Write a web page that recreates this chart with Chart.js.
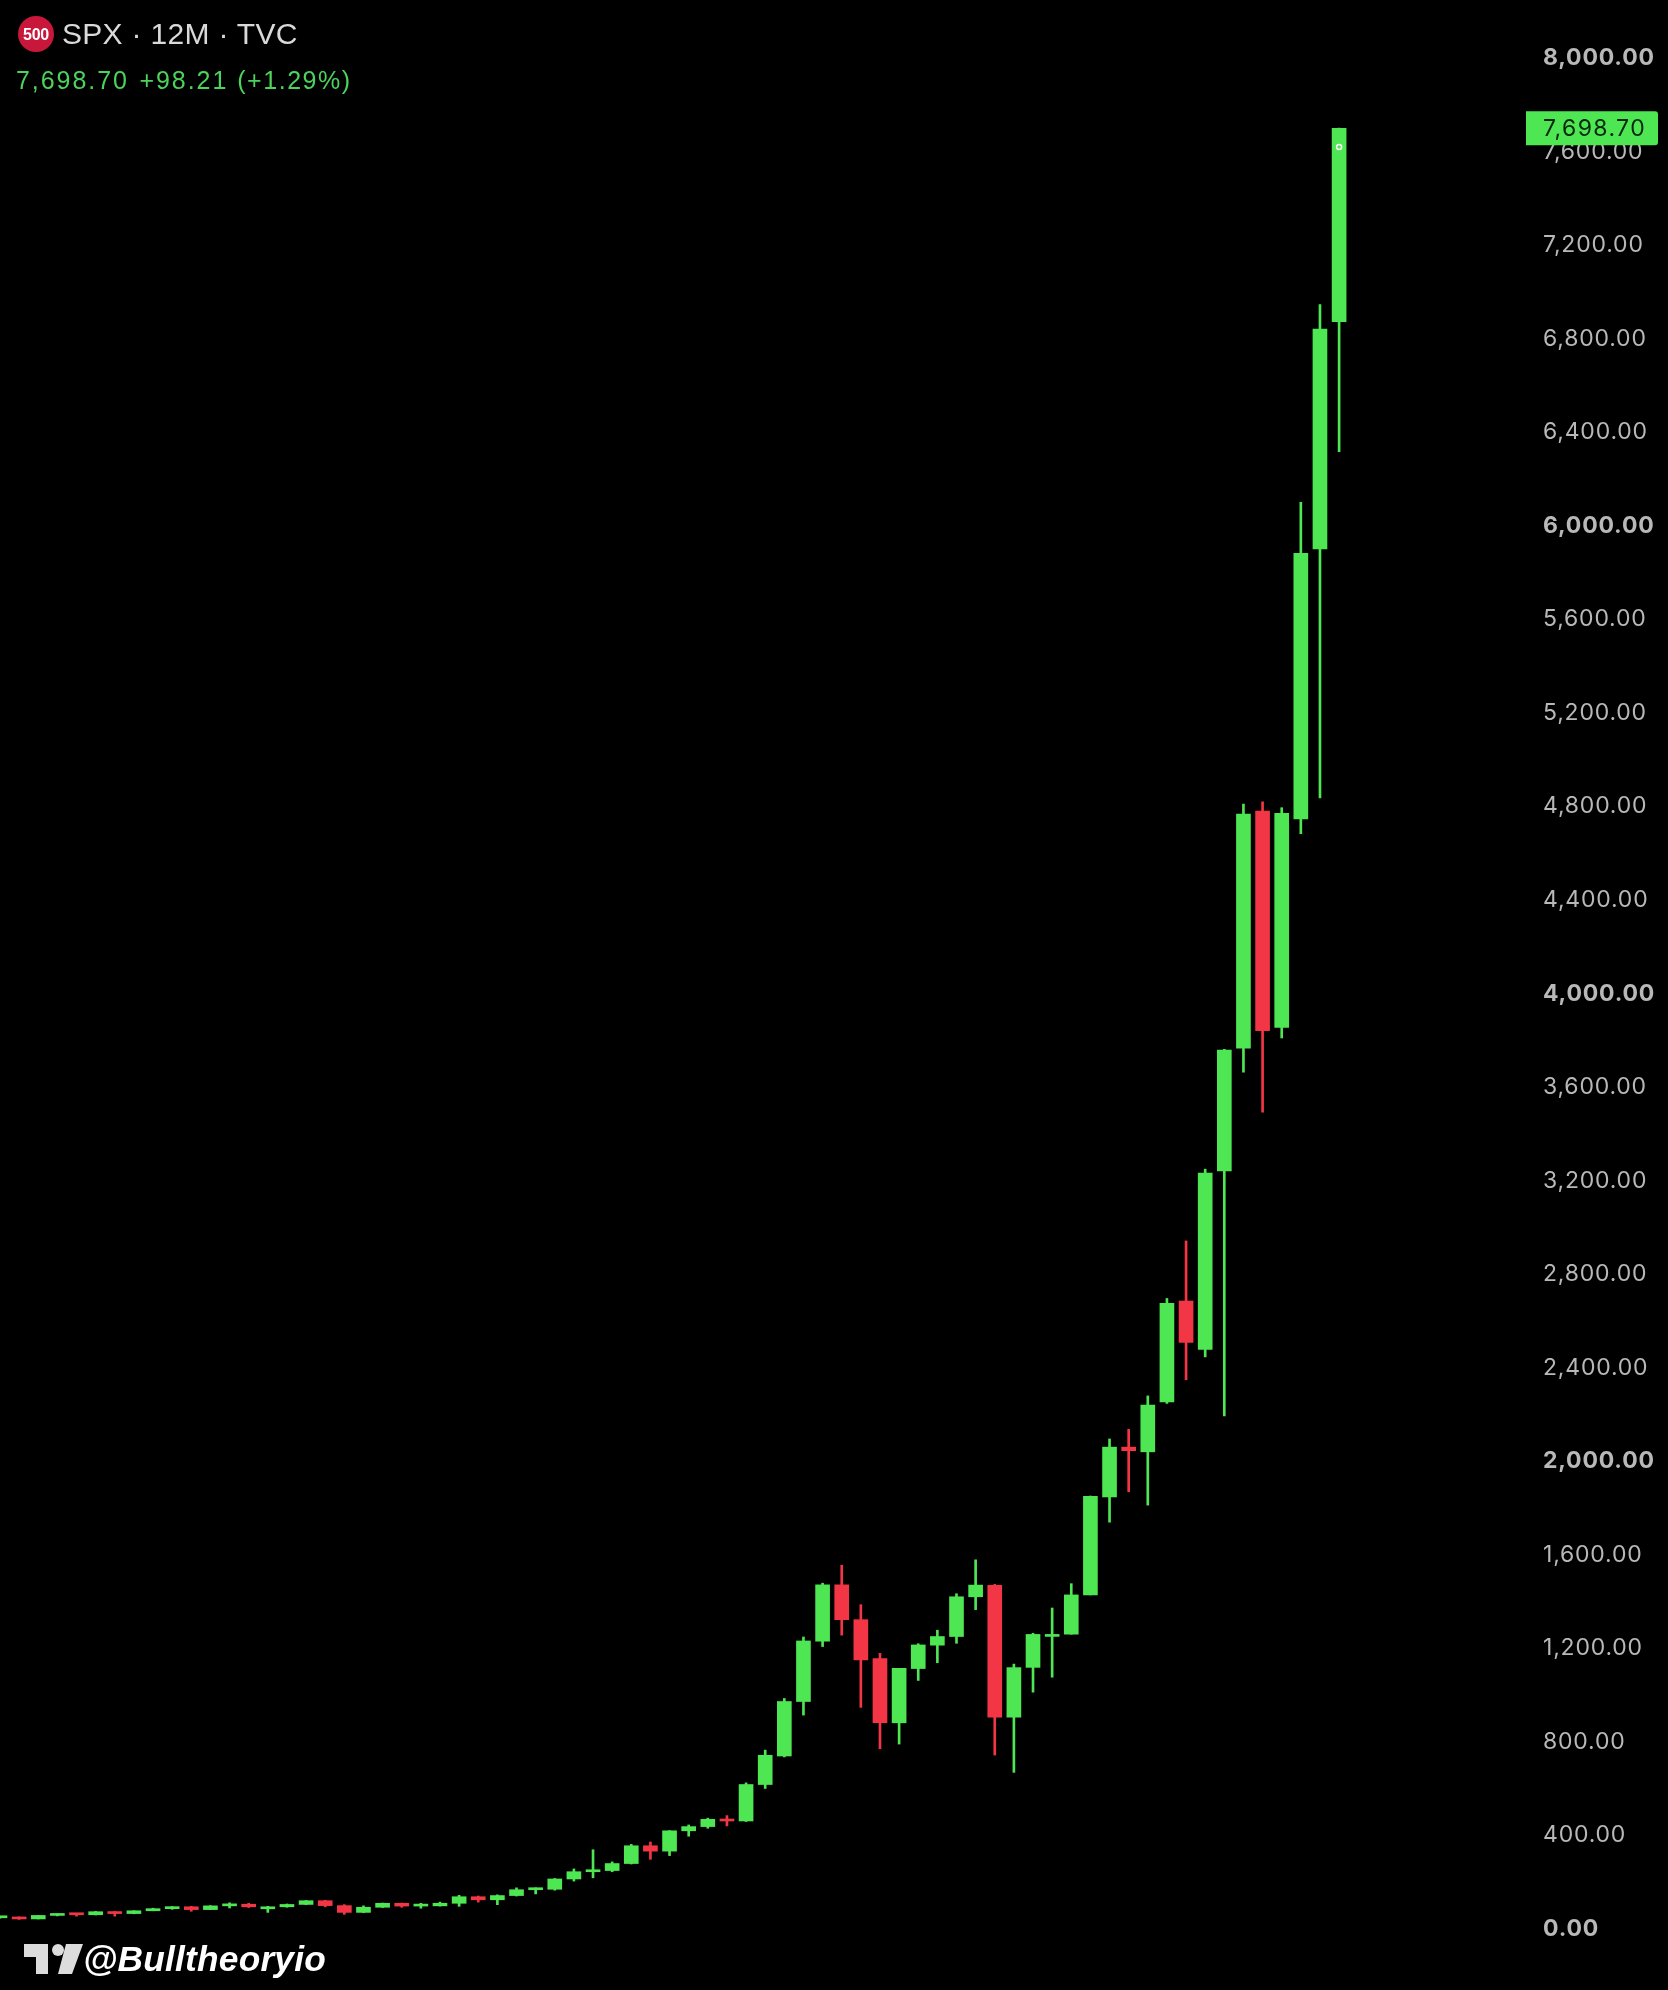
<!DOCTYPE html>
<html>
<head>
<meta charset="utf-8">
<style>
html,body{margin:0;padding:0;background:#000;width:1668px;height:1990px;overflow:hidden}
#wrap{position:relative;width:1668px;height:1990px}
canvas{position:absolute;left:0;top:0}
.t{position:absolute;white-space:pre;font-family:"Liberation Sans",sans-serif}
#badge{position:absolute;left:18px;top:16px;width:36px;height:36px;border-radius:50%;background:#c8173a;color:#fff;font:bold 16px "Liberation Sans",sans-serif;line-height:37px;text-align:center;letter-spacing:-.3px}
#title{left:62px;top:16px;font-size:30px;line-height:36px;color:#d9d9d9;letter-spacing:.3px}
#quote{left:16px;top:64px;font-size:25px;line-height:32px;color:#4cd35c;letter-spacing:1.95px}
#logo{position:absolute;left:20px;top:1940px}
#mark{left:83px;top:1937px;font-size:35.3px;line-height:44px;font-weight:bold;font-style:italic;color:#fff;letter-spacing:.2px}
</style>
</head>
<body>
<div id="wrap">
<canvas id="c" width="1668" height="1990"></canvas>
<div id="badge">500</div>
<div class="t" id="title">SPX · 12M · TVC</div>
<div class="t" id="quote">7,698.70 <span style="margin-left:1.6px">+98.21</span> <span style="letter-spacing:1.55px">(+1.29%)</span></div>
<svg id="logo" width="68" height="38" viewBox="0 0 68 38"><path d="M4 4H28V34H16V17H4Z M46 4H63L52 34H38Z" fill="#dcdcdc"/><circle cx="38" cy="10" r="6" fill="#dcdcdc"/></svg>
<div class="t" id="mark">@Bulltheoryio</div>
</div>
<script src="https://cdn.jsdelivr.net/npm/chart.js@4/dist/chart.umd.min.js"></script>
<script>
const years = [1956,1957,1958,1959,1960,1961,1962,1963,1964,1965,1966,1967,1968,1969,1970,1971,1972,1973,1974,1975,1976,1977,1978,1979,1980,1981,1982,1983,1984,1985,1986,1987,1988,1989,1990,1991,1992,1993,1994,1995,1996,1997,1998,1999,2000,2001,2002,2003,2004,2005,2006,2007,2008,2009,2010,2011,2012,2013,2014,2015,2016,2017,2018,2019,2020,2021,2022,2023,2024,2025,2026];
const opens = [45,46,40,55,59,58,71,63,75,84,92,80,96,103,92,92,102,118,97,68,90,107,95,96,107,135,122,140,165,167,211,242,247,277,353,330,417,435,466,459,615,737,970,1228,1469,1320,1154,879,1111,1211,1248,1418,1467,903,1116,1257,1258,1426,1845,2058,2038,2251,2683,2476,3239,3764,4778,3853,4745,5900,6872];
const highs = [49,49,55,61,61,72,72,75,86,93,94,97,109,107,94,104,119,120,101,96,108,108,107,112,141,138,143,173,173,213,254,336,284,359,369,418,442,471,482,622,762,983,1246,1476,1553,1384,1176,1112,1217,1275,1431,1576,1471,1130,1262,1370,1474,1849,2093,2134,2277,2694,2940,3247,3760,4808,4818,4793,6099,6945,7700];
const lows = [43,38,40,53,52,57,52,62,75,81,73,80,87,89,68,90,101,92,60,67,89,90,86,95,94,112,101,138,147,163,202,216,242,275,295,311,394,428,438,457,598,733,912,1205,1254,945,768,788,1060,1136,1219,1363,741,667,1010,1074,1258,1426,1737,1867,1810,2245,2346,2444,2192,3662,3491,3808,4682,4835,6316];
const closes = [46,40,55,59,58,71,63,75,84,92,80,96,103,92,92,102,118,97,68,90,107,95,96,107,135,122,140,165,167,211,242,247,277,353,330,417,435,466,459,615,740,970,1229,1469,1320,1148,880,1112,1212,1248,1418,1468,903,1115,1257,1257,1426,1848,2058,2043,2238,2673,2506,3230,3756,4766,3839,4769,5881,6840,7698.70];
const yTicks = [0,400,800,1200,1600,2000,2400,2800,3200,3600,4000,4400,4800,5200,5600,6000,6400,6800,7200,7600,8000];
const boldTicks = [0,2000,4000,6000,8000];
const lastPrice = 7698.70;
const markerYear = 2026;
const markerValue = 7619;

const UP = '#4ee653', DOWN = '#f23645';
const colors = opens.map((o,i)=> closes[i] >= o ? UP : DOWN);
const PX_PER_UNIT = 0.2338, ZERO_Y = 1928.3, H = 1990, SPACING = 19.13, AREA_R = 1520;
const TICK_FONT = '"Inter","Liberation Sans",sans-serif';
const TRACK = '0.8px';

const tracking = {
  id:'tracking',
  beforeDraw(chart){ chart.ctx.letterSpacing = TRACK; }
};
const priceTag = {
  id:'priceTag',
  afterDatasetsDraw(chart){
    const y = chart.scales.y.getPixelForValue(lastPrice), c = chart.ctx;
    c.save();
    c.fillStyle = UP;
    c.beginPath();
    c.roundRect(1526, y-17, 132, 34, [0,3,3,0]);
    c.fill();
    c.fillStyle = '#06280a';
    c.font = '23px '+TICK_FONT;
    c.letterSpacing = '1.4px';
    c.textAlign = 'left'; c.textBaseline = 'middle';
    c.fillText('7,698.70', 1543, y+1);
    c.restore();
  }
};

new Chart(document.getElementById('c'), {
  type:'bar',
  data:{
    datasets:[
      {label:'wick', grouped:false, order:3, barThickness:2, backgroundColor:colors,
       data:years.map((x,i)=>({x, y:[lows[i],highs[i]]}))},
      {label:'body', grouped:false, order:2, barThickness:14, minBarLength:2, backgroundColor:colors,
       data:years.map((x,i)=>({x, y:[opens[i],closes[i]]}))},
      {label:'marker', type:'line', order:1, showLine:false, pointRadius:2.5, pointBorderWidth:1.5,
       pointBorderColor:'#ffffff', pointBackgroundColor:UP,
       data:[{x:markerYear,y:markerValue}]}
    ]
  },
  plugins:[tracking, priceTag],
  options:{
    responsive:false, animation:false, devicePixelRatio:1,
    layout:{padding:0, autoPadding:false},
    plugins:{legend:{display:false},tooltip:{enabled:false}},
    scales:{
      x:{type:'linear', display:false, min:years[0], max:years[0]+AREA_R/SPACING, offset:false, grid:{display:false}},
      y:{
        position:'right',
        min:(ZERO_Y-H)/PX_PER_UNIT, max:ZERO_Y/PX_PER_UNIT,
        grid:{display:false}, border:{display:false},
        afterFit(s){ s.width = 1668-AREA_R; s.paddingTop = 0; s.paddingBottom = 0; },
        afterBuildTicks(s){ s.ticks = yTicks.map(v=>({value:v})); },
        ticks:{
          padding:15, labelOffset:0.5, autoSkip:false, color:'#b8b8b8', crossAlign:'near',
          font:(ctx)=>({family:TICK_FONT, size:23, weight: boldTicks.includes(ctx.tick && ctx.tick.value) ? 'bold':'normal'}),
          callback:(v)=>Number(v).toLocaleString('en-US',{minimumFractionDigits:2,maximumFractionDigits:2})
        }
      }
    }
  }
});
</script>
</body>
</html>
